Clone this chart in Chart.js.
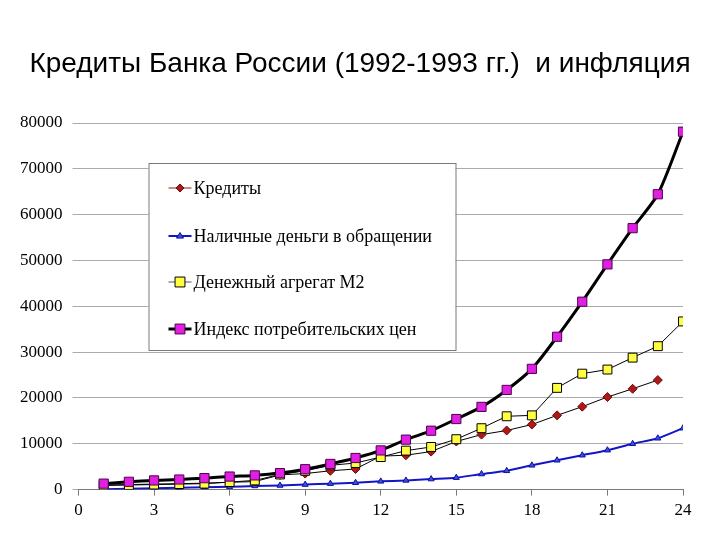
<!DOCTYPE html>
<html>
<head>
<meta charset="utf-8">
<script src="https://cdn.jsdelivr.net/npm/chart.js@4/dist/chart.umd.min.js"></script>
<style>
  html, body { margin: 0; padding: 0; background: #ffffff; }
  #wrap { width: 720px; height: 540px; }
</style>
</head>
<body>
<div id="wrap"><canvas id="c" width="720" height="540"></canvas></div>
<script>
// ---- data ----
const titleText = 'Кредиты Банка России (1992-1993 гг.)  и инфляция';
const months = [1,2,3,4,5,6,7,8,9,10,11,12,13,14,15,16,17,18,19,20,21,22,23,24];
const seriesNames = ['Кредиты', 'Наличные деньги в обращении', 'Денежный агрегат М2', 'Индекс потребительских цен'];
const credits = [1000,1100,1200,1300,1400,1600,1750,3200,3500,4100,4500,7300,7500,8300,10500,12000,12900,14200,16200,18100,20200,22000,23900,null];
const cash    = [100,200,300,400,500,600,800,900,1100,1300,1500,1800,2000,2300,2600,3400,4100,5300,6400,7500,8600,10000,11200,13400];
const m2      = [900,1000,1100,1200,1300,1650,2000,3300,4100,5300,5800,7100,8500,9300,11000,13400,16000,16200,22200,25300,26200,28800,31300,36700];
const cpi     = [1300,1700,2000,2200,2500,2850,3100,3600,4450,5600,6900,8550,10900,12850,15400,18050,21750,26350,33350,41000,49150,57050,64450,78100];
const xTicks = [0,3,6,9,12,15,18,21,24];
const yTicks = [0,10000,20000,30000,40000,50000,60000,70000,80000];

function pts(arr) { return months.map((m, i) => ({ x: m, y: arr[i] })); }

const seriesData = [credits, cash, m2, cpi];

const styles = [
  { line: '#000000', width: 1, legendLine: '#8b1a1a', marker: 'rectRot', fill: '#b01818', stroke: '#6a0a0a', r: 4.5, tension: 0 },
  { line: '#1414c8', width: 2, legendLine: '#1414c8', marker: 'triangle', fill: '#3a50e0', stroke: '#1010a0', r: 3.5, tension: 0.25 },
  { line: '#000000', width: 1, legendLine: '#555555', marker: 'rect', fill: '#ffff40', stroke: '#000000', r: 6.3, tension: 0 },
  { line: '#000000', width: 3, legendLine: '#000000', marker: 'rect', fill: '#e020e0', stroke: '#500050', r: 6.5, tension: 0.25 }
];

const datasets = seriesNames.map((name, i) => ({
  label: name,
  data: pts(seriesData[i]),
  borderColor: styles[i].line,
  borderWidth: styles[i].width,
  pointStyle: styles[i].marker,
  pointRadius: styles[i].r,
  pointBackgroundColor: styles[i].fill,
  pointBorderColor: styles[i].stroke,
  pointBorderWidth: 1,
  tension: styles[i].tension,
  spanGaps: false,
  fill: false
}));

// draw order: cash under, then credits, m2, cpi on top
datasets[0].order = 2;
datasets[1].order = 3;
datasets[2].order = 1;
datasets[3].order = 0;

const pageTitle = {
  id: 'pageTitle',
  afterDraw(chart) {
    const ctx = chart.ctx;
    ctx.save();
    ctx.font = '28px "Liberation Sans", Arial, sans-serif';
    ctx.fillStyle = '#000000';
    ctx.textAlign = 'center';
    ctx.textBaseline = 'middle';
    ctx.fillText(titleText, chart.width / 2, 64);
    ctx.restore();
  }
};

const legendBox = {
  id: 'legendBox',
  beforeDatasetsDraw(chart) {
    const ctx = chart.ctx;
    const ca = chart.chartArea;
    const bx = ca.left + 70, by = ca.top + 40, bw = 307, bh = 187;
    ctx.save();
    ctx.fillStyle = '#ffffff';
    ctx.fillRect(bx, by, bw, bh);
    ctx.strokeStyle = '#7a7a7a';
    ctx.lineWidth = 1;
    ctx.strokeRect(bx + 0.5, by + 0.5, bw, bh);
    const rows = [25, 73, 119, 166];
    ctx.font = '18px "Liberation Serif", "DejaVu Serif", serif';
    ctx.textBaseline = 'middle';
    seriesNames.forEach((name, i) => {
      const y = by + rows[i];
      const x0 = bx + 20, x1 = bx + 43, xm = (x0 + x1) / 2;
      ctx.strokeStyle = styles[i].legendLine;
      ctx.lineWidth = styles[i].width === 3 ? 3 : (i === 1 ? 2 : 1);
      ctx.beginPath(); ctx.moveTo(x0, y); ctx.lineTo(x1, y); ctx.stroke();
      ctx.fillStyle = styles[i].fill;
      ctx.strokeStyle = styles[i].stroke;
      ctx.lineWidth = 1;
      ctx.beginPath();
      const r = i === 1 ? 3.5 : (i === 0 ? 4 : 5);
      if (styles[i].marker === 'rect') { const s = r * Math.SQRT1_2 * 1.4; ctx.rect(xm - s, y - s, 2 * s, 2 * s); }
      else if (styles[i].marker === 'rectRot') { ctx.moveTo(xm - r, y); ctx.lineTo(xm, y - r); ctx.lineTo(xm + r, y); ctx.lineTo(xm, y + r); ctx.closePath(); }
      else { ctx.moveTo(xm - r, y + r * 0.6); ctx.lineTo(xm, y - r); ctx.lineTo(xm + r, y + r * 0.6); ctx.closePath(); }
      ctx.fill(); ctx.stroke();
      ctx.fillStyle = '#000000';
      ctx.fillText(name, x1 + 2, y + 1);
    });
    ctx.restore();
  }
};

new Chart(document.getElementById('c'), {
  type: 'line',
  data: { datasets },
  options: {
    responsive: false,
    animation: false,
    devicePixelRatio: 1,
    layout: { padding: { left: 10, right: 37, top: 123, bottom: 14 } },
    plugins: {
      legend: { display: false },
      tooltip: { enabled: false },
      title: { display: false }
    },
    scales: {
      x: {
        type: 'linear',
        min: 0, max: 24,
        afterBuildTicks: (s) => { s.ticks = xTicks.map(v => ({ value: v })); },
        ticks: {
          color: '#000000',
          padding: 5,
          font: { family: '"Liberation Serif", "DejaVu Serif", serif', size: 17 },
          maxRotation: 0
        },
        grid: { display: true, drawOnChartArea: false, drawTicks: true, tickLength: 6, color: '#7a7a7a' },
        border: { display: true, color: '#7a7a7a', width: 1 }
      },
      y: {
        min: 0, max: 80000,
        afterBuildTicks: (s) => { s.ticks = yTicks.map(v => ({ value: v })); },
        ticks: {
          color: '#000000',
          padding: 10,
          font: { family: '"Liberation Serif", "DejaVu Serif", serif', size: 17 },
          callback: (v) => String(v)
        },
        grid: { color: '#ababab', lineWidth: 1, drawTicks: true, tickLength: 6 },
        border: { display: false }
      }
    }
  },
  plugins: [legendBox, pageTitle]
});
</script>
</body>
</html>
